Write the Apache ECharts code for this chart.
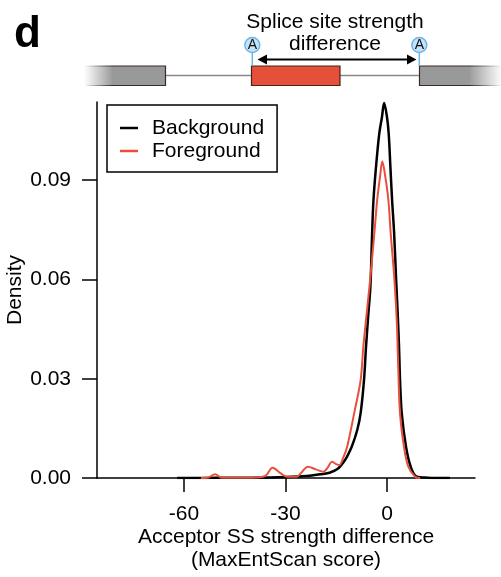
<!DOCTYPE html>
<html>
<head>
<meta charset="utf-8">
<script src="https://cdn.jsdelivr.net/npm/echarts@6/dist/echarts.min.js"></script>
<style>html,body{margin:0;padding:0;background:#fff}#c{width:501px;height:577px}</style>
</head>
<body>
<div id="c"></div>
<script>
// ---- data ----
const seriesNames = ['Background', 'Foreground'];
const bgX = [-62, -50, -40, -30, -23.7, -19.8, -17, -15.5, -14.2, -12.8, -11.9, -10.4, -8.8, -7.8, -6.8, -6.2, -5.5, -4.9, -4.4, -4.0, -3.25, -2.3, -1.5, -0.85, 0, 0.5, 1.0, 1.5, 2.1, 2.7, 3.15, 3.55, 3.85, 4.35, 5.6, 7.0, 8.8, 12, 18.6];
const bgY = [0, 0.00005, 0.0001, 0.0003, 0.0006, 0.0011, 0.0016, 0.0022, 0.0031, 0.0048, 0.0063, 0.0095, 0.0145, 0.0196, 0.0296, 0.0397, 0.0498, 0.058, 0.074, 0.084, 0.094, 0.104, 0.109, 0.1133, 0.109, 0.104, 0.094, 0.084, 0.074, 0.0598, 0.0498, 0.0397, 0.0296, 0.0196, 0.0095, 0.0034, 0.0004, 0.0001, 0];
const fgX = [-55, -53, -50.8, -48.8, -40, -36, -33.8, -31.5, -29.6, -26.7, -25, -23.4, -21, -18.8, -17.5, -16.3, -15, -14.1, -13, -11.9, -10.7, -9.7, -7.8, -7.0, -6.0, -5.0, -3.75, -2.9, -2.07, -1.4, -0.5, 0.4, 1.09, 2.2, 2.9, 3.3, 3.84, 5.0, 6.3, 8.3, 9.8];
const fgY = [0, 0.0001, 0.0011, 0.0001, 0.0001, 0.0006, 0.0031, 0.0015, 0.0004, 0.0004, 0.0020, 0.0034, 0.0026, 0.0019, 0.0032, 0.0049, 0.0042, 0.0039, 0.006, 0.0090, 0.0145, 0.0196, 0.0296, 0.0397, 0.0498, 0.0598, 0.0739, 0.084, 0.091, 0.0956, 0.091, 0.084, 0.0739, 0.0598, 0.047, 0.034, 0.0196, 0.0095, 0.0034, 0.0004, 0];
const xTicks = [-60, -30, 0];
const yTicks = [0, 0.03, 0.06, 0.09];
const xTitle = 'Acceptor SS strength difference\n(MaxEntScan score)';
const yTitle = 'Density';
const panelLabel = 'd';
const diagramTitle = 'Splice site strength\ndifference';

const FONT = '"Liberation Sans", Arial, Helvetica, sans-serif';
const RED = '#e8503c';

const zip = (xs, ys) => xs.map((x, i) => [x, ys[i]]);

const chart = echarts.init(document.getElementById('c'), null, {renderer: 'canvas'});

const grayGradL = {type: 'linear', x: 0, y: 0, x2: 1, y2: 0, colorStops: [
  {offset: 0, color: 'rgba(153,153,153,0)'}, {offset: 0.35, color: '#999999'}, {offset: 1, color: '#999999'}]};
const grayGradR = {type: 'linear', x: 0, y: 0, x2: 1, y2: 0, colorStops: [
  {offset: 0, color: '#999999'}, {offset: 0.6, color: '#999999'}, {offset: 1, color: 'rgba(153,153,153,0)'}]};
const strokeGradL = {type: 'linear', x: 0, y: 0, x2: 1, y2: 0, colorStops: [
  {offset: 0, color: 'rgba(51,34,34,0)'}, {offset: 0.35, color: '#3a2a2a'}, {offset: 1, color: '#3a2a2a'}]};
const strokeGradR = {type: 'linear', x: 0, y: 0, x2: 1, y2: 0, colorStops: [
  {offset: 0, color: '#3a2a2a'}, {offset: 0.6, color: '#3a2a2a'}, {offset: 1, color: 'rgba(51,34,34,0)'}]};

function siteMarker(cx) {
  return [
    {type: 'line', shape: {x1: cx, y1: 52, x2: cx, y2: 66}, style: {stroke: '#6cb5e8', lineWidth: 1.5}},
    {type: 'circle', shape: {cx: cx, cy: 45, r: 7.5}, style: {fill: '#c4e2f8', stroke: '#6cb5e8', lineWidth: 1.5}},
    {type: 'text', x: cx, y: 45.5, style: {text: 'A', font: '14px ' + FONT, fill: '#111', align: 'center', verticalAlign: 'middle'}}
  ];
}

const option = {
  animation: false,
  backgroundColor: '#ffffff',
  grid: {left: 97, right: 26, top: 102, bottom: 99, containLabel: false, outerBoundsMode: 'none'},
  xAxis: {
    type: 'value', min: -85.7, max: 26,
    axisLine: {show: true, onZero: false, lineStyle: {color: '#000', width: 1.5}},
    axisTick: {show: true, length: 14, lineStyle: {color: '#000', width: 1.5}, customValues: xTicks},
    axisLabel: {color: '#000', fontSize: 21, fontFamily: FONT, margin: 26, customValues: xTicks},
    splitLine: {show: false},
    name: xTitle, nameLocation: 'middle', nameGap: 48, nameMoveOverlap: false,
    nameTextStyle: {color: '#000', fontSize: 21, fontFamily: FONT, lineHeight: 23}
  },
  yAxis: {
    type: 'value', min: 0, max: 0.1136,
    axisLine: {show: true, onZero: false, lineStyle: {color: '#000', width: 1.5}},
    axisTick: {show: true, length: 15, lineStyle: {color: '#000', width: 1.5}, customValues: yTicks},
    axisLabel: {color: '#000', fontSize: 21, fontFamily: FONT, margin: 26, customValues: yTicks,
      formatter: v => v.toFixed(2)},
    splitLine: {show: false},
    name: yTitle, nameLocation: 'middle', nameGap: 71, nameMoveOverlap: false,
    nameTextStyle: {color: '#000', fontSize: 21, fontFamily: FONT}
  },
  legend: {
    orient: 'vertical', left: 107, top: 105,
    data: seriesNames,
    icon: 'rect', itemWidth: 18, itemHeight: 2.5, itemGap: 1,
    borderColor: '#000', borderWidth: 1.5, borderRadius: 0,
    padding: [12, 13, 10, 13],
    textStyle: {color: '#000', fontSize: 21, fontFamily: FONT, lineHeight: 22, padding: [0, 0, 0, 9]}
  },
  series: [
    {name: seriesNames[0], type: 'line', data: zip(bgX, bgY), showSymbol: false, smooth: 0.35,
      lineStyle: {color: '#000', width: 2.5}, itemStyle: {color: '#000'}, z: 2},
    {name: seriesNames[1], type: 'line', data: zip(fgX, fgY), showSymbol: false, smooth: 0.35,
      lineStyle: {color: RED, width: 2}, itemStyle: {color: RED}, z: 3}
  ],
  graphic: [
    {type: 'text', x: 14, y: 13, style: {text: panelLabel, font: 'bold 44px ' + FONT, fill: '#000', verticalAlign: 'top'}},
    {type: 'text', x: 335, y: 33, style: {text: diagramTitle, font: '21px ' + FONT, fill: '#000', align: 'center', verticalAlign: 'middle', lineHeight: 22}},
    {type: 'line', shape: {x1: 165, y1: 75.5, x2: 252, y2: 75.5}, style: {stroke: '#8a8a8a', lineWidth: 1.5}},
    {type: 'line', shape: {x1: 340, y1: 75.5, x2: 419, y2: 75.5}, style: {stroke: '#8a8a8a', lineWidth: 1.5}},
    {type: 'rect', shape: {x: 85, y: 66, width: 80.5, height: 19.5}, style: {fill: grayGradL, stroke: strokeGradL, lineWidth: 1.2}},
    {type: 'rect', shape: {x: 251.5, y: 66, width: 88.5, height: 19.5}, style: {fill: '#e5503a', stroke: '#4a2218', lineWidth: 1.2}},
    {type: 'rect', shape: {x: 419.5, y: 66, width: 82, height: 19.5}, style: {fill: grayGradR, stroke: strokeGradR, lineWidth: 1.2}},
    {type: 'line', shape: {x1: 264, y1: 59.5, x2: 410, y2: 59.5}, style: {stroke: '#000', lineWidth: 1.8}},
    {type: 'polygon', shape: {points: [[257.5, 59.5], [267, 54.5], [267, 64.5]]}, style: {fill: '#000'}},
    {type: 'polygon', shape: {points: [[416.5, 59.5], [407, 54.5], [407, 64.5]]}, style: {fill: '#000'}},
    ...siteMarker(252.3),
    ...siteMarker(419.3)
  ]
};
chart.setOption(option);
</script>
</body>
</html>
